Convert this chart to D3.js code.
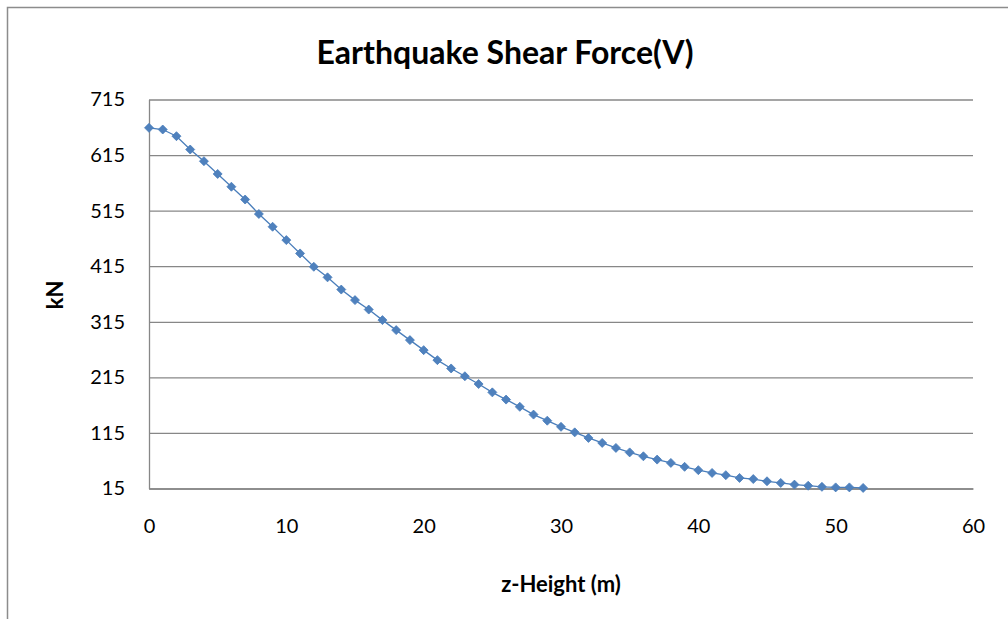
<!DOCTYPE html>
<html>
<head>
<meta charset="utf-8">
<script src="https://cdn.jsdelivr.net/npm/d3@7"></script>
<style>
  body { margin: 0; background: #fff; }
  svg { display: block; font-family: Lato, "Open Sans", sans-serif; }
</style>
</head>
<body>
<svg width="1008" height="619"></svg>
<script>
var heights = [0, 1, 2, 3, 4, 5, 6, 7, 8, 9, 10, 11, 12, 13, 14, 15, 16, 17, 18, 19, 20,
  21, 22, 23, 24, 25, 26, 27, 28, 29, 30, 31, 32, 33, 34, 35, 36, 37, 38, 39, 40,
  41, 42, 43, 44, 45, 46, 47, 48, 49, 50, 51, 52];
var shear = [664, 661, 649, 625, 604, 581, 558, 535, 509, 486, 462, 438, 414, 395, 373,
  354, 337, 318, 300, 282, 264, 246, 231, 217, 203, 188, 175, 162, 148, 137, 126,
  116, 106, 97, 88, 80, 73, 67, 61, 54, 48, 43, 39, 34, 32, 28, 25, 22, 20, 18,
  17, 17, 16];
var xTicks = [0, 10, 20, 30, 40, 50, 60];
var yTicks = [15, 115, 215, 315, 415, 515, 615, 715];

var chartTitle = "Earthquake Shear Force(V)";
var xTitle = "z-Height (m)";
var yTitle = "kN";

(function () {
  var svg = d3.select("svg");
  var plotLeft = 149, plotRight = 973, plotTop = 99.5, plotBottom = 488.5;

  // outer chart border, runs off the right and bottom edge
  svg.append("rect")
    .attr("x", 7.5).attr("y", 7.5)
    .attr("width", 1010).attr("height", 620)
    .attr("fill", "none")
    .attr("stroke", "#8c8c8c")
    .attr("stroke-width", 1.5);

  var x = d3.scaleLinear().domain([0, 60]).range([plotLeft, plotRight]);
  var y = d3.scaleLinear().domain([15, 715]).range([plotBottom, plotTop]);

  // gridlines
  svg.append("g")
    .attr("transform", "translate(" + plotLeft + ",0)")
    .call(d3.axisLeft(y).tickValues(yTicks).tickSize(-(plotRight - plotLeft)).tickFormat(""))
    .call(function (g) { g.select(".domain").remove(); })
    .selectAll("line")
    .attr("stroke", "#878787")
    .attr("stroke-width", 1.3);

  // y axis labels
  var yAxis = svg.append("g")
    .attr("transform", "translate(" + plotLeft + ",0)")
    .call(d3.axisLeft(y).tickValues(yTicks).tickSize(0).tickPadding(24));
  yAxis.select(".domain").attr("stroke", "#878787").attr("stroke-width", 1.3);
  yAxis.selectAll("text")
    .attr("font-family", "Lato, sans-serif")
    .attr("font-size", 20)
    .attr("fill", "#000");

  // x axis
  var xAxis = svg.append("g")
    .attr("transform", "translate(0," + plotBottom + ")")
    .call(d3.axisBottom(x).tickValues(xTicks).tickSize(0).tickPadding(30));
  xAxis.select(".domain").attr("stroke", "#878787").attr("stroke-width", 1.3);
  xAxis.selectAll("text")
    .attr("font-family", "Lato, sans-serif")
    .attr("font-size", 20)
    .attr("fill", "#000");

  var data = heights.map(function (h, i) {
    return { h: h, v: shear[i] };
  });

  var line = d3.line()
    .x(function (d) { return x(d.h); })
    .y(function (d) { return y(d.v); });

  svg.append("path")
    .datum(data)
    .attr("d", line)
    .attr("fill", "none")
    .attr("stroke", "#4a7ebb")
    .attr("stroke-width", 1.3);

  svg.append("g")
    .selectAll("path")
    .data(data)
    .enter()
    .append("path")
    .attr("d", "M0,-4.5L4.5,0L0,4.5L-4.5,0Z")
    .attr("transform", function (d) {
      return "translate(" + x(d.h) + "," + y(d.v) + ")";
    })
    .attr("fill", "#4f81bd")
    .attr("stroke", "#4a7ebb")
    .attr("stroke-width", 0.8);

  // titles
  svg.append("text")
    .attr("x", 505).attr("y", 64)
    .attr("text-anchor", "middle")
    .attr("font-size", 32)
    .attr("font-weight", "bold")
    .text(chartTitle);

  svg.append("text")
    .attr("x", 561).attr("y", 592)
    .attr("text-anchor", "middle")
    .attr("font-size", 22)
    .attr("font-weight", "bold")
    .text(xTitle);

  svg.append("text")
    .attr("transform", "translate(63,295) rotate(-90)")
    .attr("text-anchor", "middle")
    .attr("font-size", 22)
    .attr("font-weight", "bold")
    .text(yTitle);
})();
</script>
</body>
</html>
